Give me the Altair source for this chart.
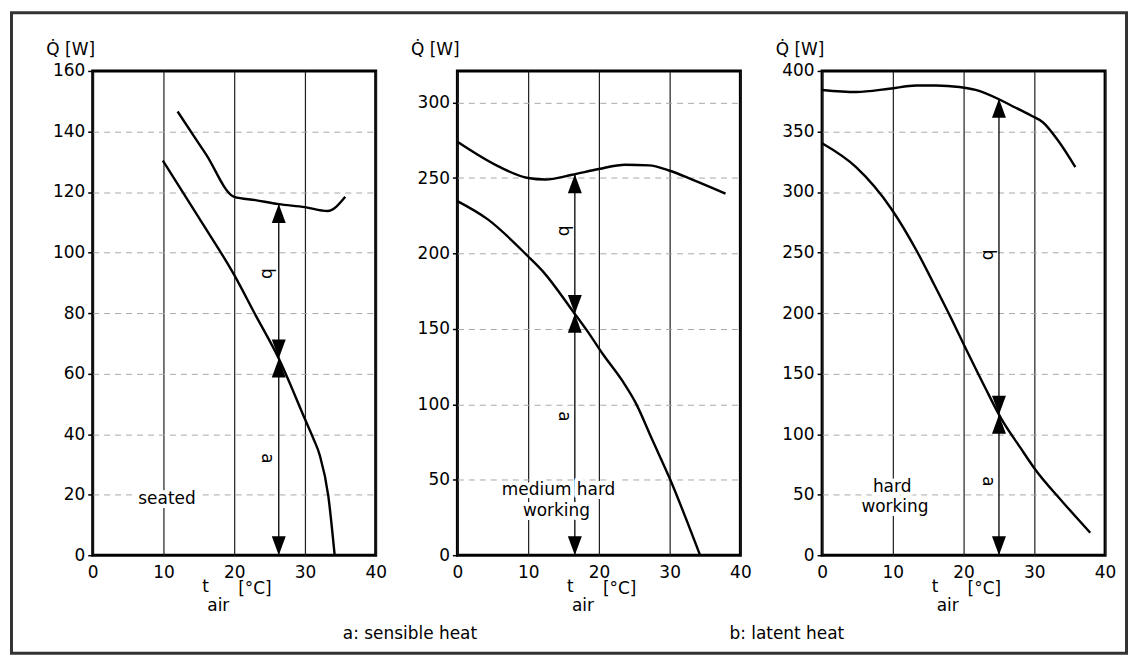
import altair as alt
import pandas as pd

FONT = "DejaVu Sans"
FS = 17
W, H = 284, 486

x_ticks = [0, 10, 20, 30, 40]

# ---------------- panel 1 : seated ----------------
p1_total_x = [12.0, 16.0, 20.0, 23.0, 26.3, 30.0, 33.2, 35.7]
p1_total_y = [146.6, 132.5, 118.4, 117.3, 116.0, 115.0, 113.7, 118.4]
p1_sens_x = [9.9, 15.0, 20.0, 23.0, 26.3, 30.0, 31.2, 32.1, 33.3, 34.2]
p1_sens_y = [130.4, 111.5, 92.6, 79.4, 65.0, 45.0, 38.5, 33.0, 19.6, 0.0]
p1_ymax = 160
p1_yticks = [0, 20, 40, 60, 80, 100, 120, 140, 160]
p1_arrow_x, p1_arrow_mid, p1_arrow_top = 26.3, 65.0, 116.0
p1_ab_x, p1_b_y, p1_a_y = 24.6, 93.0, 32.0
p1_lab_text = ["seated"]
p1_lab_x = [10.5]
p1_lab_y = [18.5]

# ---------------- panel 2 : medium hard working ----------------
p2_total_x = [0.0, 5.8, 10.0, 12.4, 16.2, 20.0, 23.7, 27.1, 29.9, 33.2, 37.9]
p2_total_y = [274.0, 257.7, 250.0, 249.0, 252.2, 256.0, 258.8, 258.4, 255.0, 249.0, 239.7]
p2_sens_x = [0.0, 4.3, 9.9, 12.2, 16.4, 18.3, 20.6, 23.4, 25.2, 27.5, 30.0, 34.3]
p2_sens_y = [234.7, 222.6, 198.5, 187.5, 161.2, 149.0, 133.0, 115.0, 101.0, 77.0, 51.0, 0.0]
p2_ymax = 321
p2_yticks = [0, 50, 100, 150, 200, 250, 300]
p2_arrow_x, p2_arrow_mid, p2_arrow_top = 16.6, 160.0, 252.5
p2_ab_x, p2_b_y, p2_a_y = 15.0, 215.0, 92.0
p2_lab_text = ["medium hard", "working"]
p2_lab_x = [14.3, 14.0]
p2_lab_y = [43.5, 29.0]

# ---------------- panel 3 : hard working ----------------
p3_total_x = [0.0, 4.8, 9.5, 13.3, 16.1, 19.4, 21.7, 25.0, 27.3, 29.6, 31.2, 33.3, 35.8]
p3_total_y = [384.3, 382.6, 385.3, 388.0, 388.0, 386.7, 384.3, 376.6, 369.8, 363.0, 357.6, 342.9, 320.5]
p3_sens_x = [0.0, 4.8, 9.8, 13.5, 15.8, 18.3, 20.2, 23.0, 25.3, 28.0, 30.1, 34.0, 37.9]
p3_sens_y = [340.2, 320.5, 286.0, 250.0, 224.0, 195.0, 172.0, 139.0, 113.0, 89.0, 71.0, 44.0, 18.6]
p3_ymax = 400
p3_yticks = [0, 50, 100, 150, 200, 250, 300, 350, 400]
p3_arrow_x, p3_arrow_mid, p3_arrow_top = 25.0, 116.0, 377.0
p3_ab_x, p3_b_y, p3_a_y = 23.5, 248.0, 61.0
p3_lab_text = ["hard", "working"]
p3_lab_x = [9.9, 10.3]
p3_lab_y = [56.6, 39.6]

footer_a = "a: sensible heat"
footer_b = "b: latent heat"

UP = "M0,0L0.7,1.9L-0.7,1.9Z"
DOWN = "M0,0L0.7,-1.9L-0.7,-1.9Z"


def panel(total_x, total_y, sens_x, sens_y, ymax, yticks, ax, amid, atop,
          abx, by, ay, lab_text, lab_x, lab_y, frame=False, footer=False):
    xs = alt.Scale(domain=[0, 40], nice=False)
    ys = alt.Scale(domain=[0, ymax], nice=False)
    xaxis = alt.Axis(values=x_ticks, title=None, grid=True, gridColor="#1e1e1e",
                     gridWidth=1.2, ticks=False, tickSize=0, domain=False,
                     labelPadding=9, labelFont=FONT, labelFontSize=FS,
                     labelColor="black", labelFlush=False)
    yaxis = alt.Axis(values=yticks, title="Q̇ [W]", titleAngle=0, titleAlign="left",
                     titleBaseline="alphabetic", titleX=-47, titleY=-16,
                     titleFont=FONT, titleFontSize=FS, titleFontWeight="normal",
                     titleColor="black", grid=True, gridColor="#a8a8a8",
                     gridDash=[6, 5], gridWidth=1,
                     gridOpacity={"condition": {"test": f"datum.value <= 0 || datum.value >= {ymax}",
                                                "value": 0}, "value": 1},
                     tickSize=5, tickColor="black", tickWidth=1.5, domain=False,
                     labelPadding=3, labelFont=FONT, labelFontSize=FS,
                     labelColor="black", labelFlush=False)
    X = alt.X("x:Q", scale=xs, axis=xaxis)
    Y = alt.Y("y:Q", scale=ys, axis=yaxis)

    curves = pd.DataFrame({
        "x": total_x + sens_x,
        "y": total_y + sens_y,
        "s": ["total"] * len(total_x) + ["sensible"] * len(sens_x),
    })
    lines = alt.Chart(curves).mark_line(color="black", strokeWidth=2.4,
                                        interpolate="monotone").encode(x=X, y=Y, detail="s:N")

    arrow_df = pd.DataFrame({"x": [ax], "y": [0.0], "top": [atop]})
    rule = alt.Chart(arrow_df).mark_rule(color="black", strokeWidth=1.3).encode(
        x="x:Q", y="y:Q", y2="top:Q")
    up_df = pd.DataFrame({"x": [ax, ax], "y": [atop, amid]})
    dn_df = pd.DataFrame({"x": [ax, ax], "y": [amid, 0.0]})
    ups = alt.Chart(up_df).mark_point(shape=UP, size=400, filled=True, color="black",
                                      opacity=1, strokeWidth=0).encode(x="x:Q", y="y:Q")
    dns = alt.Chart(dn_df).mark_point(shape=DOWN, size=400, filled=True, color="black",
                                      opacity=1, strokeWidth=0).encode(x="x:Q", y="y:Q")

    ab_df = pd.DataFrame({"x": [abx, abx], "y": [by, ay], "t": ["b", "a"]})
    ab = alt.Chart(ab_df).mark_text(angle=90, font=FONT, fontSize=FS, color="black",
                                    align="center", baseline="middle").encode(
        x="x:Q", y="y:Q", text="t:N")

    lab_df = pd.DataFrame({"x": lab_x, "y": lab_y, "t": lab_text})
    halo = alt.Chart(lab_df).mark_text(font=FONT, fontSize=FS, fill="white", stroke="white",
                                       strokeWidth=8, strokeJoin="round",
                                       align="center", baseline="middle").encode(
        x="x:Q", y="y:Q", text="t:N")
    labs = alt.Chart(lab_df).mark_text(font=FONT, fontSize=FS, color="black",
                                       align="center", baseline="middle").encode(
        x="x:Q", y="y:Q", text="t:N")

    one = pd.DataFrame({"k": [0]})
    t1 = alt.Chart(one).mark_text(text="t", font=FONT, fontSize=FS, color="black",
                                  align="left", baseline="alphabetic").encode(
        x=alt.value(110), y=alt.value(H + 37))
    t2 = alt.Chart(one).mark_text(text="air", font=FONT, fontSize=FS, color="black",
                                  align="left", baseline="alphabetic").encode(
        x=alt.value(115), y=alt.value(H + 56))
    t3 = alt.Chart(one).mark_text(text="[°C]", font=FONT, fontSize=FS, color="black",
                                  align="left", baseline="alphabetic").encode(
        x=alt.value(146), y=alt.value(H + 39))

    layers = [lines, rule, ups, dns, ab, halo, labs, t1, t2, t3]
    if frame:
        fr = alt.Chart(one).mark_rect(fillOpacity=0, stroke="#333333", strokeWidth=3).encode(
            x=alt.value(-81.5), x2=alt.value(1037.5), y=alt.value(-58.5), y2=alt.value(584.5))
        layers.append(fr)
    if footer:
        fa = alt.Chart(one).mark_text(text=footer_a, font=FONT, fontSize=FS, color="black",
                                      align="left", baseline="alphabetic").encode(
            x=alt.value(-115), y=alt.value(570))
        fb = alt.Chart(one).mark_text(text=footer_b, font=FONT, fontSize=FS, color="black",
                                      align="left", baseline="alphabetic").encode(
            x=alt.value(273), y=alt.value(570))
        layers += [fa, fb]
    return alt.layer(*layers).properties(width=W, height=H)


p1 = panel(p1_total_x, p1_total_y, p1_sens_x, p1_sens_y, p1_ymax, p1_yticks,
           p1_arrow_x, p1_arrow_mid, p1_arrow_top, p1_ab_x, p1_b_y, p1_a_y,
           p1_lab_text, p1_lab_x, p1_lab_y, frame=True)
p2 = panel(p2_total_x, p2_total_y, p2_sens_x, p2_sens_y, p2_ymax, p2_yticks,
           p2_arrow_x, p2_arrow_mid, p2_arrow_top, p2_ab_x, p2_b_y, p2_a_y,
           p2_lab_text, p2_lab_x, p2_lab_y, footer=True)
p3 = panel(p3_total_x, p3_total_y, p3_sens_x, p3_sens_y, p3_ymax, p3_yticks,
           p3_arrow_x, p3_arrow_mid, p3_arrow_top, p3_ab_x, p3_b_y, p3_a_y,
           p3_lab_text, p3_lab_x, p3_lab_y)

chart = alt.hconcat(p1, p2, p3, spacing=82, bounds="flush").properties(
    padding=0
).configure_view(stroke="black", strokeWidth=3)

chart.save("out.html", embed_options={"renderer": "svg", "actions": False})
